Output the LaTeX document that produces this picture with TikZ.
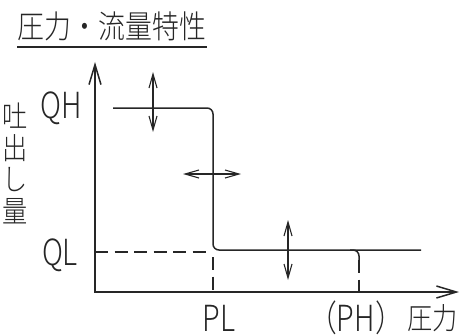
\documentclass[tikz,border=0pt]{standalone}
\usepackage{fontspec}
\setmainfont{Noto Sans CJK JP Light}
\newfontfamily\narrow[FakeStretch=0.8]{Noto Sans CJK JP Light}
\newfontfamily\tall[FakeStretch=0.84]{Noto Sans CJK JP Light}
\usepackage{tikz}
\usetikzlibrary{arrows,arrows.meta,calc,positioning}
\definecolor{ink}{gray}{0.15}
\tikzstyle{axisline}=[line width=1.5pt, draw=ink,
                      {Straight Barb[length=20pt,width=12pt]}-{Straight Barb[length=20pt,width=12pt]}]
\tikzstyle{flow}    =[line width=1.5pt, draw=ink, rounded corners=6pt]
\tikzstyle{guide}   =[line width=1.3pt, draw=ink, dash pattern=on 13pt off 6.5pt]
\tikzstyle{adjust}  =[line width=1.1pt, draw=ink,
                      {Straight Barb[length=14pt,width=8pt]}-{Straight Barb[length=14pt,width=8pt]}]
\tikzstyle{txt}     =[inner sep=0pt, text=ink, text depth=0pt,
                      font=\narrow\fontsize{36}{36}\selectfont]
\tikzstyle{cjk}     =[inner sep=0pt, text=ink, text depth=0pt,
                      font=\tall\fontsize{32}{32}\selectfont]

\begin{document}
\begin{tikzpicture}[x=1pt, y=-1pt]
    \useasboundingbox (0,0) rectangle (462,334);
    % title
    \node[cjk, anchor=base] (title) at (112,39) {圧力・流量特性};
    \coordinate (ul0) at (17,47);
    \coordinate (ul1) at (207,47);
    \draw[line width=1.4pt, draw=ink] (ul0) -- (ul1);

    % axes
    \coordinate (O)    at (95,292);
    \coordinate (ytop) at (95,62);
    \coordinate (xend) at (459,292);
    \draw[axisline] (ytop) -- (O) -- (xend);

    % characteristic curve
    \coordinate (qh0) at (113,108);
    \coordinate (qh1) at (213,108);
    \coordinate (pl)  at (213,250);
    \coordinate (ql1) at (421,250);
    \draw[flow] (qh0) -- (qh1) -- (pl) -- (ql1);

    \coordinate (ph0) at (350,250);
    \coordinate (ph1) at (359,250);
    \coordinate (ph2) at (359,260);
    \draw[flow] (ph0) -- (ph1) -- (ph2);

    % guide lines
    \coordinate (ql0) at (95,252);
    \coordinate (qlr) at (207,252);
    \draw[guide] (ql0) -- (qlr);
    \coordinate (plt) at (213,257);
    \coordinate (plb) at (213,292);
    \draw[guide] (plt) -- (plb);
    \coordinate (phb) at (359,292);
    \draw[guide] (ph2) -- (phb);

    % adjustment arrows
    \coordinate (a0) at (153,72);  \coordinate (a1) at (153,132);
    \coordinate (b0) at (183,174); \coordinate (b1) at (241,174);
    \coordinate (c0) at (288,220); \coordinate (c1) at (288,280);
    \draw[adjust] (a0) -- (a1);
    \draw[adjust] (b0) -- (b1);
    \draw[adjust] (c0) -- (c1);

    % labels
    \node[txt, anchor=base] (QH) at (61,118) {QH};
    \node[txt, anchor=base] (QL) at (60,265) {QL};
    \node[txt, anchor=base] (PL) at (219,331) {PL};
    \node[txt, anchor=base east] (PH) at (404,331) {（PH）};
    \node[cjk, anchor=base west, font=\tall\fontsize{30}{30}\selectfont]
          (press) at (407,329) {圧力};
    \node[cjk, align=center, font=\tall\fontsize{30}{31.5}\selectfont,
          anchor=north] (flux) at (15,103) {吐\\出\\し\\量};
\end{tikzpicture}
\end{document}
